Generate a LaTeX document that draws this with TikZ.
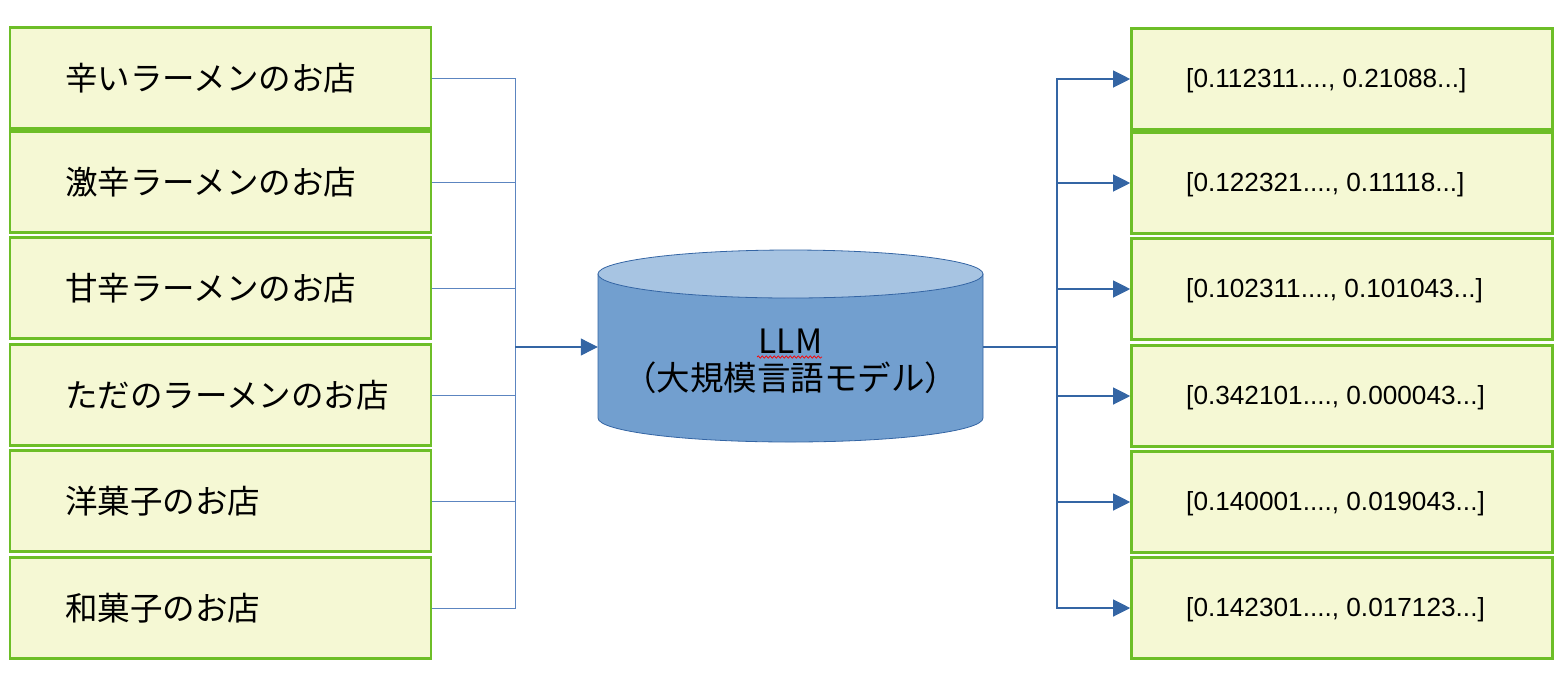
\documentclass[tikz,border=0pt]{standalone}
\usepackage{fontspec}
\setmainfont{Noto Sans CJK JP}
\newfontfamily\lib{Liberation Sans}
\usetikzlibrary{arrows.meta,decorations.pathmorphing}
\definecolor{boxfill}{HTML}{F5F8D4}
\definecolor{boxline}{HTML}{6DBE27}
\definecolor{conn}{HTML}{3465A4}
\definecolor{connl}{HTML}{5C85C0}
\definecolor{cylbody}{HTML}{729FCF}
\definecolor{cyltop}{HTML}{A7C4E2}
\tikzset{
  inbox/.style={draw=boxline, fill=boxfill, line width=2.6pt, minimum width=421pt, minimum height=101pt, inner sep=0pt},
  intext/.style={anchor=west, inner sep=0pt, font=\fontsize{32.5}{38}\selectfont},
  outtext/.style={anchor=west, inner sep=0pt, font=\lib\fontsize{26.2}{30}\selectfont},
  wire/.style={draw=conn, line width=1.1pt},
  wirel/.style={draw=connl, line width=1pt},
  tip/.style={-{Triangle[length=17pt,width=17pt]}},
}
\begin{document}
\begin{tikzpicture}[x=1pt,y=-1pt]
\useasboundingbox (0,0) rectangle (1565,681);
% left boxes
\foreach \n/\y/\t in {1/78/辛いラーメンのお店, 2/182/激辛ラーメンのお店, 3/288/甘辛ラーメンのお店, 4/395/ただのラーメンのお店, 5/501/洋菓子のお店, 6/608/和菓子のお店}{
  \node[inbox] (l\n) at (220.5,\y) {};
  \node[intext] (lt\n) at (65,\y) {\t};
}
% right boxes
\foreach \n/\y/\t in {1/79/{[0.112311...., 0.21088...]}, 2/183/{[0.122321...., 0.11118...]}, 3/289/{[0.102311...., 0.101043...]}, 4/396/{[0.342101...., 0.000043...]}, 5/502/{[0.140001...., 0.019043...]}, 6/608/{[0.142301...., 0.017123...]}}{
  \node[inbox] (r\n) at (1342,\y) {};
  \node[outtext] (rt\n) at (1186,\y+2) {\t};
}
% cylinder
\node[minimum width=385pt, minimum height=192pt, inner sep=0pt] (llm) at (790.5,347) {};
\fill[cylbody, draw=conn, line width=0.8pt] (598,274) -- (598,418) arc[start angle=180, end angle=0, x radius=192.5, y radius=24] -- (983,274) -- cycle;
\filldraw[fill=cyltop, draw=conn, line width=0.8pt] (790.5,274) ellipse[x radius=192.5, y radius=24];
\node[align=center, inner sep=0pt, font=\fontsize{33.5}{37}\selectfont] (llmt) at (790.5,361) {LLM\\（大規模言語モデル）};
\draw[red, line width=0.7pt, decorate, decoration={snake, amplitude=1.2pt, segment length=4pt}] (757,357) -- (822,357);
% connectors
\coordinate (busL) at (515,347);
\coordinate (busR) at (1057,347);
\foreach \n in {1,...,6}{
  \draw[wirel] (l\n.east) -| (busL);
}
\draw[wire, tip] (busL) -- (llm.west);
\draw[wire] (llm.east) -- (busR);
\foreach \n in {1,...,6}{
  \draw[wire, tip] (busR) |- (r\n.west);
}
\end{tikzpicture}
\end{document}
